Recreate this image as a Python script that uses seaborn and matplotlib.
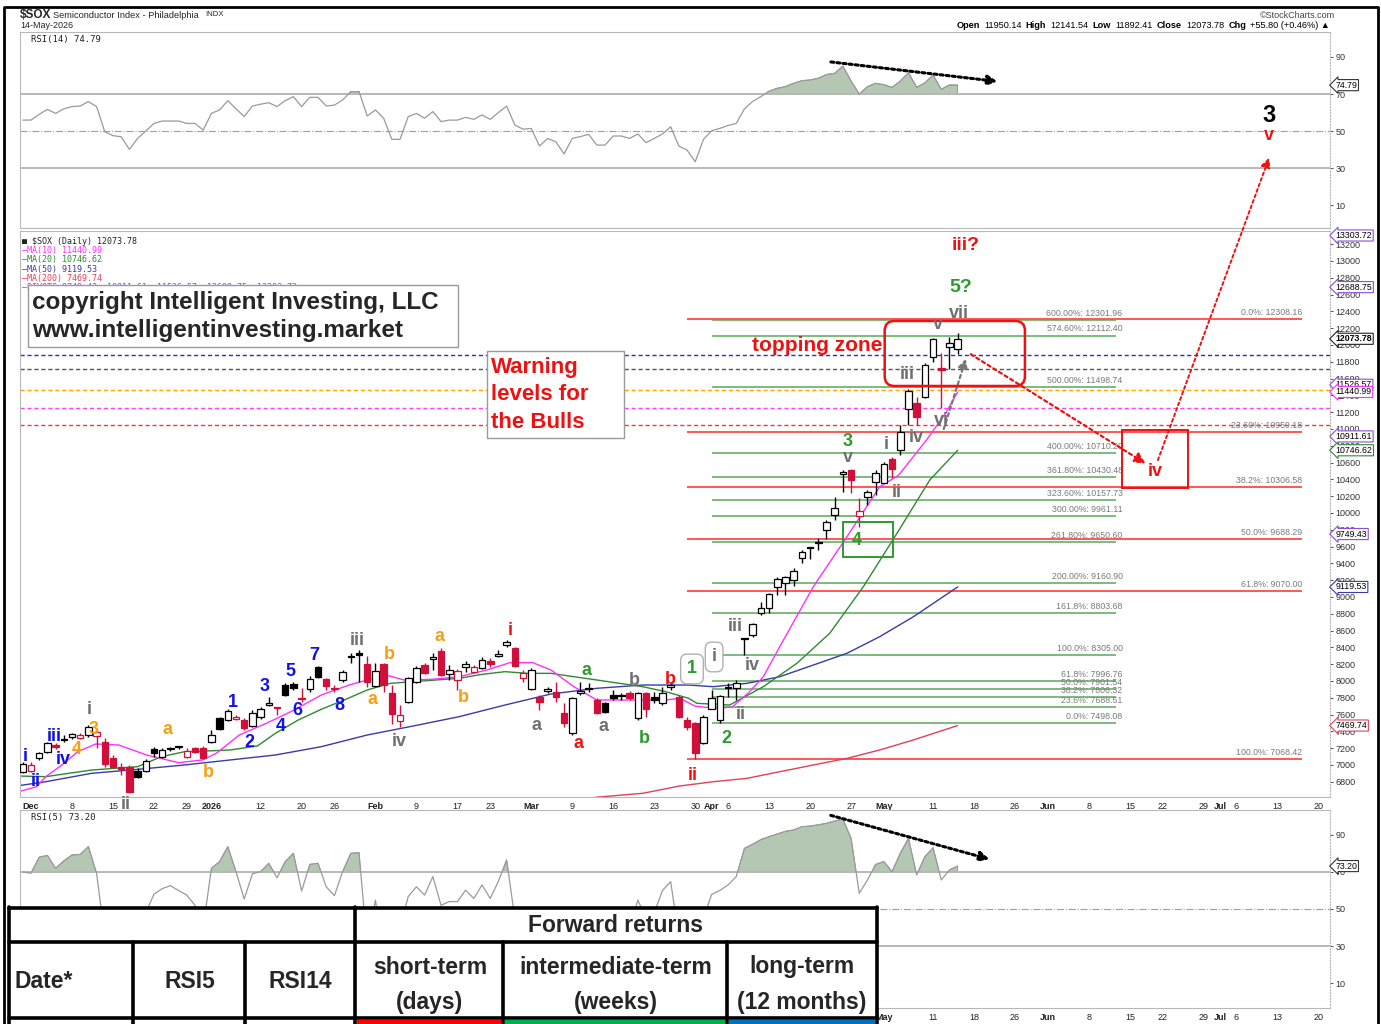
import numpy as np
import pandas as pd
import matplotlib
matplotlib.use("Agg")
import matplotlib.pyplot as plt
import seaborn as sns
from matplotlib.patches import Rectangle, FancyBboxPatch
from matplotlib.offsetbox import TextArea, HPacker, AnchoredOffsetbox

sns.set_theme(style="white")
plt.rcParams['font.family'] = ['Liberation Sans', 'DejaVu Sans']

# trading calendar (x axis = trading-day index, Dec 1 2025 = 0)
holidays = ["2025-12-25", "2026-01-01", "2026-01-19", "2026-02-16",
            "2026-04-03", "2026-05-25", "2026-06-19", "2026-07-03"]
days = pd.bdate_range("2025-11-28", "2026-07-24")
days = days[~days.isin(pd.to_datetime(holidays))]
pos = {d: i - 1 for i, d in enumerate(days)}

def xi(s):
    return pos[pd.Timestamp(s)]

# daily candles, Nov 28 2025 .. May 14 2026
opens = [6921, 6933, 7079, 7159, 7238, 7305, 7337, 7317, 7357, 7345, 7278, 7087, 6978, 6980, 6929, 6929,
         7190, 7099, 7195, 7218, 7099, 7198, 7198, 7278, 7563, 7536, 7544, 7536, 7464, 7567, 7714, 7680,
         7952, 7964, 7800, 7901, 8171, 8020, 7918, 8012, 8292, 8329, 8202, 7940, 8198, 7853, 7524, 7754,
         7992, 8190, 8258, 8361, 8079, 8012, 8163, 8111, 8159, 8242, 8298, 8428, 8389, 8032, 7905, 7806,
         7885, 7873, 7615, 7377, 7853, 7908, 7774, 7734, 7833, 7823, 7861, 7555, 7853, 7813, 7734, 7925,
         7813, 7540, 7504, 7258, 7667, 7536, 7925, 7913, 8505, 8548, 8806, 8869, 9123, 9170, 9202, 9464,
         9590, 9658, 9798, 9976, 10461, 10512, 9964, 10187, 10373, 10361, 10638, 10750, 11235, 11313,
         11385, 11853, 11722, 11976, 11950.14]
highs = [7040, 7040, 7159, 7278, 7258, 7357, 7385, 7377, 7476, 7417, 7317, 7119, 7020, 7000, 6960, 7067,
         7218, 7198, 7218, 7230, 7198, 7218, 7226, 7417, 7575, 7663, 7595, 7555, 7655, 7694, 7813, 7694,
         7980, 7992, 7913, 8059, 8178, 8032, 7952, 8131, 8329, 8369, 8298, 8218, 8218, 7952, 7714, 8052,
         8178, 8210, 8337, 8389, 8190, 8139, 8242, 8190, 8282, 8270, 8369, 8488, 8409, 8131, 8151, 7833,
         7933, 7992, 7734, 7813, 7992, 7972, 7794, 7754, 7893, 7853, 7885, 7873, 7873, 7873, 7933, 7972,
         7833, 7575, 7515, 7595, 7893, 7833, 7976, 8012, 8508, 8694, 8944, 9044, 9242, 9250, 9342, 9560,
         9599, 9699, 9917, 10194, 10512, 10520, 10179, 10274, 10512, 10611, 10670, 11048, 11476, 11385,
         11782, 12083, 11908, 12099, 12141.54]
lows = [6901, 6921, 7060, 7147, 7186, 7278, 7306, 7306, 7337, 7198, 6980, 6960, 6881, 6671, 6841, 6917,
        7099, 7087, 7171, 7186, 7087, 7139, 7067, 7266, 7417, 7524, 7536, 7417, 7448, 7552, 7702, 7595,
        7821, 7893, 7754, 7873, 8032, 7893, 7873, 7992, 8210, 7992, 7933, 7933, 7873, 7488, 7456, 7742,
        7972, 8083, 8131, 8059, 8012, 7893, 8111, 8091, 8139, 8171, 8282, 8409, 8171, 7992, 7893, 7655,
        7861, 7754, 7456, 7357, 7833, 7873, 7607, 7615, 7774, 7774, 7774, 7536, 7575, 7734, 7714, 7893,
        7555, 7417, 7068, 7250, 7667, 7498, 7813, 7774, 8310, 8527, 8786, 8806, 9024, 9024, 9135, 9400,
        9449, 9560, 9687, 9917, 10254, 10238, 9837, 10095, 10214, 10353, 10417, 10691, 11048, 11048,
        11369, 11801, 11246, 11711, 11892.41]
closes = [7012, 7005, 7139, 7266, 7218, 7298, 7365, 7358, 7456, 7397, 7012, 6980, 6948, 6683, 6861, 7048,
          7139, 7179, 7190, 7212, 7167, 7159, 7079, 7357, 7425, 7643, 7575, 7436, 7623, 7663, 7734, 7690,
          7833, 7913, 7790, 8020, 8044, 7940, 7910, 8111, 8290, 8309, 7992, 8123, 7952, 7603, 7598, 8032,
          8151, 8099, 8282, 8071, 8131, 8123, 8202, 8163, 8250, 8202, 8321, 8468, 8182, 8091, 8131, 7754,
          7905, 7806, 7496, 7794, 7881, 7903, 7623, 7631, 7794, 7819, 7794, 7853, 7663, 7774, 7861, 7952,
          7575, 7450, 7139, 7575, 7798, 7821, 7920, 7980, 8500, 8679, 8873, 9036, 9214, 9238, 9313, 9539,
          9587, 9639, 9896, 10063, 10492, 10393, 10027, 10254, 10480, 10583, 10520, 10968, 11456, 11146,
          11762, 12068, 11702, 12017.98, 12073.78]

# moving averages (trading-day index, value)
ma10_x = [-1.5, 0.7, 1.8, 3.5, 5.7, 7.9, 10.7, 14.1, 18, 20.9, 22.6, 25.4, 28.7, 32.1, 35.4, 38.8, 41, 43.3,
          45.5, 48.9, 52.2, 55.6, 58.4, 61.2, 63.4, 66.2, 69, 71.8, 74.6, 77.4, 79.1, 81, 83.5, 85.5, 87.5,
          89.3, 91.3, 95.4, 99.5, 103.5, 105.8, 109.2, 111.6, 113]
ma10_y = [6682, 6742, 6861, 6980, 7158, 7250, 7238, 7119, 7027, 7060, 7139, 7357, 7496, 7655, 7833, 7952,
          8012, 8071, 8012, 8020, 8051, 8131, 8218, 8218, 8131, 7932, 7774, 7774, 7774, 7774, 7794, 7700,
          7675, 7690, 7860, 8051, 8408, 9123, 9718, 10313, 10450, 10869, 11200, 11440.99]
ma20_x = [-1.5, 1.8, 4.6, 7.4, 10.2, 13, 15.9, 18.7, 21.5, 24.3, 27.6, 29.8, 32.6, 35.4, 38.2, 41, 43.8,
          46.6, 49.4, 52.2, 55, 57.8, 60.6, 63.4, 66.2, 69, 71.8, 74.6, 77.4, 80.2, 81.2, 85.2, 89.3, 93.4,
          97.4, 101.5, 105.6, 109.6, 113]
ma20_y = [6869, 6861, 6901, 6940, 6960, 6980, 7099, 7158, 7167, 7179, 7226, 7377, 7536, 7663, 7774, 7893,
          7972, 7992, 8012, 8032, 8079, 8111, 8091, 8091, 8051, 8012, 7972, 7932, 7873, 7794, 7734, 7714,
          7932, 8211, 8568, 9123, 9758, 10393, 10746.62]
ma50_x = [-1.5, 1.8, 7.4, 13, 18.7, 24.3, 29.8, 35.4, 41, 46.6, 52.2, 57.8, 63.4, 69, 74.6, 80.2, 83.2,
          87.3, 91.3, 95.4, 99.5, 103.5, 107.6, 113]
ma50_y = [6754, 6801, 6901, 6948, 7000, 7060, 7119, 7218, 7357, 7464, 7575, 7714, 7845, 7913, 7952, 7952,
          7932, 7972, 8051, 8190, 8330, 8528, 8765, 9119.53]
ma200_x = [68.8, 74.6, 79.1, 83.2, 87.3, 91.3, 95.4, 99.5, 103.5, 107.6, 113]
ma200_y = [6615, 6663, 6750, 6801, 6841, 6920, 7000, 7079, 7179, 7298, 7469.74]

# RSI values, one per candle
rsi14 = [55.9, 55.9, 59, 61.7, 59.5, 62, 63.2, 63.5, 65.9, 63.2, 49.6, 47.5, 46.9, 40.1, 46, 50, 54.1,
         55.4, 55.4, 55.4, 54.1, 54.1, 50.5, 59.5, 61.4, 66.4, 62, 57.8, 63.5, 64.5, 65.3, 63.2, 66.4, 68.6,
         63.2, 68.2, 68.2, 63.5, 64, 66.8, 71.3, 71.3, 58.1, 61.4, 56.9, 45.5, 45.5, 57.8, 59.5, 56.9, 60.5,
         55.1, 55.9, 55.9, 57.4, 56.3, 58.7, 56.3, 60, 63.5, 53.2, 51, 51.4, 41.9, 46, 44.2, 37.6, 46, 47,
         48.2, 42.4, 42.4, 47.3, 47.3, 46, 48.4, 43.7, 46, 48.4, 52.3, 41.9, 39.7, 33.4, 45.5, 50.2, 51.4,
         53, 54.1, 62, 66, 68.6, 71.5, 73.1, 74, 75.8, 77.2, 77.6, 78.5, 80.5, 81.2, 85.1, 77, 70, 74, 75.8,
         75, 73.6, 77, 81.5, 73.6, 76, 80.3, 72.5, 74.9, 74.79]
rsi5 = [70, 69.3, 78, 79, 72, 76, 79.2, 79.5, 83.7, 69.3, 35, 25, 30, 20, 35, 48, 58, 61, 62.6, 60, 57.5,
        52, 40, 72, 75.6, 83.7, 70.2, 55.4, 69, 70.2, 74.7, 66.9, 75.6, 80.1, 59.7, 74.1, 74.7, 62, 57.2,
        70.2, 80.1, 80.4, 30, 54.8, 25, 20, 40, 56.7, 62, 57.5, 67.5, 52, 54, 54, 60.2, 55.7, 63, 55.7, 65,
        76.5, 45, 35, 40, 25, 35, 30, 15, 35, 40, 30, 30, 35, 45, 50, 40, 54.8, 45, 48, 60, 64.8, 35, 30, 15,
        45, 57.9, 60, 63, 67.5, 82.8, 85, 87.5, 89.1, 90.5, 92, 92.7, 94.5, 94.8, 95.5, 96.3, 97.5, 98.6,
        88.2, 58.5, 65.7, 74.1, 75.6, 70.2, 80.1, 88.2, 68.4, 78.3, 83.1, 65.7, 71.1, 73.2]

# fibonacci levels
fib_ret = [("0.0%", 12308.16), ("23.60%", 10959.18), ("38.2%", 10306.58), ("50.0%", 9688.29),
           ("61.8%", 9070.00), ("100.0%", 7068.42)]
fib_ext = [("600.00%", 12301.96), ("574.60%", 12112.40), ("500.00%", 11498.74), ("400.00%", 10710.20),
           ("361.80%", 10430.48), ("323.60%", 10157.73), ("300.00%", 9961.11), ("261.80%", 9650.60),
           ("200.00%", 9160.90), ("161.8%", 8803.68), ("100.0%", 8305.00), ("61.8%", 7996.76),
           ("50.0%", 7901.54), ("38.2%", 7806.32), ("23.6%", 7688.51), ("0.0%", 7498.08)]
warn_levels = [(11881, "#2a2ad0"), (11711, "#555555"), (11464, "#ffa500"), (11246, "#ff40ff"), (11048, "#ff3333")]

tick_dates = ["2025-12-01", "2025-12-08", "2025-12-15", "2025-12-22", "2025-12-29", "2026-01-02", "2026-01-12",
              "2026-01-20", "2026-01-26", "2026-02-02", "2026-02-09", "2026-02-17", "2026-02-23", "2026-03-02",
              "2026-03-09", "2026-03-16", "2026-03-23", "2026-03-30", "2026-04-01", "2026-04-06", "2026-04-13",
              "2026-04-20", "2026-04-27", "2026-05-01", "2026-05-11", "2026-05-18", "2026-05-26", "2026-06-01",
              "2026-06-08", "2026-06-15", "2026-06-22", "2026-06-29", "2026-07-01", "2026-07-06", "2026-07-13",
              "2026-07-20"]
tick_text = ["Dec", "8", "15", "22", "29", "2026", "12", "20", "26", "Feb", "9", "17", "23", "Mar", "9", "16",
             "23", "30", "Apr", "6", "13", "20", "27", "May", "11", "18", "26", "Jun", "8", "15", "22", "29",
             "Jul", "6", "13", "20"]

# elliott wave labels (text, x index, price, colour)
BLUE, ORANGE, GRAY, RED, GREEN = "#1010e8", "#f5a010", "#707070", "#ee1111", "#2e9a2e"
waves = [("i", -0.7, 7107, BLUE), ("ii", 0.6, 6801, BLUE), ("iii", 2.8, 7337, BLUE), ("iv", 3.9, 7060, BLUE),
         ("4", 5.6, 7179, ORANGE), ("3", 7.6, 7417, ORANGE), ("i", 7.1, 7655, GRAY), ("a", 16.7, 7417, ORANGE),
         ("b", 21.6, 6908, ORANGE), ("1", 24.6, 7742, BLUE), ("2", 26.6, 7265, BLUE), ("3", 28.5, 7940, BLUE),
         ("4", 30.5, 7464, BLUE), ("5", 31.6, 8111, BLUE), ("6", 32.5, 7646, BLUE), ("7", 34.6, 8298, BLUE),
         ("8", 37.6, 7714, BLUE), ("iii", 39.8, 8480, GRAY), ("b", 43.7, 8310, ORANGE), ("a", 41.7, 7774, ORANGE),
         ("iv", 44.9, 7277, GRAY), ("a", 49.8, 8524, ORANGE), ("b", 52.7, 7801, ORANGE), ("i", 58.4, 8607, RED),
         ("a", 61.6, 7476, GRAY), ("a", 66.8, 7250, RED), ("a", 69.8, 7464, GRAY), ("a", 67.7, 8123, GREEN),
         ("b", 73.6, 8000, GRAY), ("b", 74.8, 7318, GREEN), ("b", 77.9, 8020, RED), ("ii", 80.7, 6869, RED),
         ("ii", 11.5, 6524, GRAY), ("2", 84.8, 7321, GREEN), ("ii", 86.6, 7607, GRAY), ("iii", 85.9, 8643, GRAY),
         ("iv", 87.9, 8190, GRAY), ("3", 99.6, 10857, GREEN), ("v", 99.6, 10655, GRAY), ("4", 100.7, 9667, GREEN),
         ("i", 104.3, 10821, GRAY), ("ii", 105.6, 10238, GRAY), ("iv", 107.9, 10893, GRAY),
         ("iii", 106.8, 11643, GRAY), ("vi", 111, 11107, GRAY), ("v", 110.6, 12238, GRAY),
         ("vii", 113.2, 12369, GRAY), ("iv", 137.1, 10488, RED)]

W, H = 1381, 1024
fig = plt.figure(figsize=(W / 100, H / 100), dpi=100)

def frame(x0, y0, x1, y1):
    return [x0 / W, 1 - y1 / H, (x1 - x0) / W, (y1 - y0) / H]

ax14 = fig.add_axes(frame(19.5, 32, 1330, 228))
ax = fig.add_axes(frame(19.5, 231, 1330, 797))
ax5 = fig.add_axes(frame(19.5, 810, 1330, 1008))

xs = np.arange(len(closes)) - 1
tick_pos = [xi(d) for d in tick_dates]
for a in (ax14, ax, ax5):
    a.set_xlim(-1.4, 158.4)
    for s in a.spines.values():
        s.set_color("#b8b8b8")
        s.set_linewidth(0.8)
    a.spines["right"].set_linestyle(":")
    a.yaxis.tick_right()
    a.tick_params(axis="y", labelsize=6.5, colors="#333333", length=2, pad=2, width=0.6)
    a.tick_params(axis="x", labelsize=6.5, colors="#222222", length=2, pad=1.5, width=0.6)
    a.set_xticks(tick_pos)
    a.set_xticks(np.arange(-1, 159), minor=True)
    a.tick_params(axis="x", which="minor", length=1.5, color="#bbbbbb")
    a.grid(False)
ax14.set_xticklabels([])
for a in (ax, ax5):
    a.set_xticklabels(tick_text)
    for lab, t in zip(a.get_xticklabels(), tick_text):
        if not t.isdigit() or t == "2026":
            lab.set_fontweight("bold")

# RSI panels
for a, vals, y0, y1 in ((ax14, rsi14, -2.4, 103.5), (ax5, rsi5, -3.5, 103.5)):
    a.set_ylim(y0, y1)
    a.set_yticks([10, 30, 50, 70, 90])
    a.axhline(70, color="#b8b8b8", lw=1.4)
    a.axhline(30, color="#b8b8b8", lw=1.4)
    a.axhline(50, color="#a0a0a0", lw=0.8, ls="-.")
    v = np.array(vals)
    a.fill_between(xs, 70, v, where=v > 70, interpolate=True, color="#b3c7b3", ec="#7a8a7a", lw=0.5)
    sns.lineplot(x=xs, y=v, ax=a, color="#9a9a9a", lw=0.9)
    a.set_ylabel("")
ax14.annotate("", xy=(118.2, 76.6), xytext=(97.2, 87.5),
              arrowprops=dict(arrowstyle="-|>", color="black", lw=2.2, ls=(0, (1, 1)), mutation_scale=14))
ax5.annotate("", xy=(117.2, 76.5), xytext=(97.2, 101),
             arrowprops=dict(arrowstyle="-|>", color="black", lw=2.2, ls=(0, (1, 1)), mutation_scale=14))
ax14.text(151, 58.6, "3", color="black", fontsize=17, fontweight="bold", ha="center", va="center")
ax14.text(151, 47.5, "v", color=RED, fontsize=13, fontweight="bold", ha="center", va="center")

def marker(a, val, text, ec, bold=False):
    a.annotate(text, xy=(1.0, val), xycoords=("axes fraction", "data"), xytext=(4, 0),
               textcoords="offset points", va="center", ha="left", fontsize=6.3, color="black",
               fontweight="bold" if bold else "normal", annotation_clip=False,
               bbox=dict(boxstyle="larrow,pad=0.12", fc="white", ec=ec, lw=0.8))

marker(ax14, 74.79, "74.79", "#333333")
marker(ax5, 73.20, "73.20", "#333333")

# price panel
ax.set_ylim(6619, 13357)
ax.set_yticks(np.arange(6800, 13201, 200))
ax.yaxis.set_major_formatter(matplotlib.ticker.FuncFormatter(lambda v, p: f"{v:.0f}"))

for lvl, col in warn_levels:
    ax.axhline(lvl, color=col, lw=1.0, ls=(0, (3, 2)), zorder=1)

r0, r1 = 80, 155
for lab, lvl in fib_ret:
    ax.hlines(lvl, r0, r1, color="#ff4a4a", lw=1.3, zorder=1)
    ax.text(r1, lvl + 25, f"{lab}: {lvl:.2f}", ha="right", va="bottom", fontsize=6.3, color="#7a7a7a")
g0, g1 = 83, 132.3
for lab, lvl in fib_ext:
    ax.hlines(lvl, g0, g1, color="#5aa85a", lw=1.1, zorder=1)
    ax.text(g1 + 0.8, lvl + 25, f"{lab}: {lvl:.2f}", ha="right", va="bottom", fontsize=6.3, color="#7a7a7a")

sns.lineplot(x=ma200_x, y=ma200_y, ax=ax, color="#e0405a", lw=1.0)
sns.lineplot(x=ma50_x, y=ma50_y, ax=ax, color="#3a3aa8", lw=1.0)
sns.lineplot(x=ma20_x, y=ma20_y, ax=ax, color="#2f8a2f", lw=1.0)
sns.lineplot(x=ma10_x, y=ma10_y, ax=ax, color="#ff30ff", lw=1.0)

# candles, stockcharts colouring
prev = np.r_[closes[0], closes[:-1]]
for x, o, h, l, c, pc in zip(xs, opens, highs, lows, closes, prev):
    col = "#d0103a" if c < pc else "black"
    lo_b, hi_b = min(o, c), max(o, c)
    ax.vlines(x, l, h, color=col, lw=1.0, zorder=3)
    if hi_b - lo_b < 12:
        hi_b = lo_b + 12
    ax.bar(x, hi_b - lo_b, bottom=lo_b, width=0.8, color=("white" if c >= o else col),
           edgecolor=col, lw=0.9, zorder=4)
ax.set_ylabel("")

for txt, x, y, col in waves:
    ax.text(x, y, txt, color=col, fontsize=13, fontweight="bold", ha="center", va="center",
            zorder=6, clip_on=False)
ax.text(80.6, 8143, "1", color=GREEN, fontsize=13, fontweight="bold", ha="center", va="center", zorder=6,
        bbox=dict(boxstyle="round,pad=0.35", fc="white", ec="#b0b0b0", lw=1))
ax.text(83.3, 8286, "i", color=GRAY, fontsize=13, fontweight="bold", ha="center", va="center", zorder=6,
        bbox=dict(boxstyle="round,pad=0.35", fc="white", ec="#b0b0b0", lw=1))
ax.text(113.4, 12679, "5?", color=GREEN, fontsize=14, fontweight="bold", ha="center", va="center")
ax.text(114.0, 13179, "iii?", color=RED, fontsize=14, fontweight="bold", ha="center", va="center")
ax.text(87.9, 11988, "topping zone", color=RED, fontsize=15, fontweight="bold", ha="left", va="center")

# boxes and arrows
ax.add_patch(FancyBboxPatch((104.1, 11512), 17.1, 774, boxstyle="round,pad=0,rounding_size=1.2",
                            mutation_aspect=97, fc="none", ec=RED, lw=1.8, zorder=5))
ax.add_patch(Rectangle((133, 10298), 8.1, 690, fc="none", ec=RED, lw=1.4, zorder=5))
ax.add_patch(Rectangle((99.0, 9476), 6.1, 417, fc="none", ec=GREEN, lw=1.4, zorder=5))
ax.annotate("", xy=(136.2, 10571), xytext=(114.3, 11908),
            arrowprops=dict(arrowstyle="-|>", color=RED, lw=1.6, ls=(0, (1.5, 1.5)), mutation_scale=16))
ax.annotate("", xy=(114.1, 11869), xytext=(111.2, 10968),
            arrowprops=dict(arrowstyle="-|>", color="#777777", lw=1.6, ls=(0, (1.5, 1.5)), mutation_scale=14))
ax.annotate("", xy=(151.1, 37), xycoords=ax14.transData, xytext=(137.3, 10599), textcoords="data",
            annotation_clip=False,
            arrowprops=dict(arrowstyle="-|>", color=RED, lw=1.4, ls=(0, (1.5, 1.5)), mutation_scale=14))

marker(ax, 13303.72, "13303.72", "#8a4fd8")
marker(ax, 12688.75, "12688.75", "#8a4fd8")
marker(ax, 12073.78, "12073.78", "#222222", bold=True)
marker(ax, 11526.57, "11526.57", "#8a4fd8")
marker(ax, 11440.99, "11440.99", "#ff30ff")
marker(ax, 10911.61, "10911.61", "#8a4fd8")
marker(ax, 10746.62, "10746.62", "#2f8a2f")
marker(ax, 9749.43, "9749.43", "#8a4fd8")
marker(ax, 9119.53, "9119.53", "#3a3aa8")
marker(ax, 7469.74, "7469.74", "#e0405a")

# legends
leg = [("\u25a0 $SOX (Daily) 12073.78", "#222222"), ("\u2014MA(10) 11440.99", "#ff30ff"),
       ("\u2014MA(20) 10746.62", "#2f8a2f"), ("\u2014MA(50) 9119.53", "#3a3aa8"),
       ("\u2014MA(200) 7469.74", "#e0405a"),
       ("\u2014PIVOTS 9749.43, 10911.61, 11526.57, 12688.75, 13303.72", "#8a4fd8")]
for i, (t, c) in enumerate(leg):
    ax.text(0.002, 0.99 - i * 0.0165, t, transform=ax.transAxes, fontsize=6, color=c, va="top",
            family="DejaVu Sans Mono")
ax14.text(0.009, 0.985, "RSI(14) 74.79", transform=ax14.transAxes, fontsize=6.5, va="top",
          family="DejaVu Sans Mono", color="#222222")
ax5.text(0.009, 0.985, "RSI(5) 73.20", transform=ax5.transAxes, fontsize=6.5, va="top",
         family="DejaVu Sans Mono", color="#222222")

# overlay in pixel coordinates: header, frame, text boxes, table
ov = fig.add_axes([0, 0, 1, 1], zorder=20)
ov.set_xlim(0, W)
ov.set_ylim(H, 0)
ov.axis("off")
ov.patch.set_alpha(0)
ov.plot([4, 4, 1378, 1378], [1024, 7, 7, 1024], color="black", lw=2)
ov.text(20, 15, "$SOX", fontsize=8.5, fontweight="bold", va="center")
ov.text(53, 15, "Semiconductor Index - Philadelphia", fontsize=6.7, va="center")
ov.text(205, 15, "INDX", fontsize=5.6, va="center")
ov.text(20, 26, "14-May-2026", fontsize=6.5, va="center")
ov.text(1335, 15, "\u00a9StockCharts.com", fontsize=6.5, va="center", ha="right", color="#444444")
pieces = [("Open", True), ("11950.14", False), ("High", True), ("12141.54", False), ("Low", True),
          ("11892.41", False), ("Close", True), ("12073.78", False), ("Chg", True), ("+55.80 (+0.46%) \u25b2", False)]
boxes = [TextArea(t, textprops=dict(fontsize=6.6, fontweight="bold" if b else "normal", color="black"))
         for t, b in pieces]
ohlc = AnchoredOffsetbox(loc="center right", child=HPacker(children=boxes, sep=3, pad=0), pad=0, borderpad=0,
                         frameon=False, bbox_to_anchor=(1330 / W, 1 - 26 / H), bbox_transform=fig.transFigure)
ov.add_artist(ohlc)

ov.add_patch(Rectangle((28, 285), 430, 62, fc="white", ec="#9a9a9a", lw=1))
ov.text(32, 302, "copyright Intelligent Investing, LLC", fontsize=17.5, fontweight="bold", va="center")
ov.text(32, 331, "www.intelligentinvesting.market", fontsize=17.5, fontweight="bold", va="center")
ov.add_patch(Rectangle((487, 351), 137, 87, fc="white", ec="#9a9a9a", lw=1))
for i, t in enumerate(["Warning", "levels for", "the Bulls"]):
    ov.text(491, 368 + i * 27, t, fontsize=16, fontweight="bold", va="center", color=RED)

tf = ["Liberation Sans Narrow", "Liberation Sans"]
ov.add_patch(Rectangle((9, 907), 868, 120, fc="white", ec="none"))
for y, x0, x1 in [(908, 9, 877), (942, 9, 877), (1018, 9, 877)]:
    ov.plot([x0, x1], [y, y], color="black", lw=2.6)
for x, y0, y1 in [(9, 907, 1024), (355, 907, 1024), (877, 907, 1024), (133, 942, 1024), (245, 942, 1024),
                  (503, 942, 1024), (727, 942, 1024)]:
    ov.plot([x, x], [y0, y1], color="black", lw=2.6)
for x0, x1, c in [(357, 501, "#ff0000"), (505, 725, "#00b050"), (729, 875, "#0070c0")]:
    ov.add_patch(Rectangle((x0, 1020), x1 - x0, 5, fc=c, ec="none"))
ov.text(616, 926, "Forward returns", fontsize=16.5, fontweight="bold", ha="center", va="center", family=tf)
ov.text(15, 981, "Date*", fontsize=16.5, fontweight="bold", ha="left", va="center", family=tf)
ov.text(190, 981, "RSI5", fontsize=16.5, fontweight="bold", ha="center", va="center", family=tf)
ov.text(300, 981, "RSI14", fontsize=16.5, fontweight="bold", ha="center", va="center", family=tf)
for xc, a, b in [(430, "short-term", "(days)"), (616, "intermediate-term", "(weeks)"),
                 (802, "long-term", "(12 months)")]:
    ov.text(xc, 967, a, fontsize=16.5, fontweight="bold", ha="center", va="center", family=tf)
    ov.text(xc, 1002, b, fontsize=16.5, fontweight="bold", ha="center", va="center", family=tf)

fig.savefig("out.png", dpi=100)
